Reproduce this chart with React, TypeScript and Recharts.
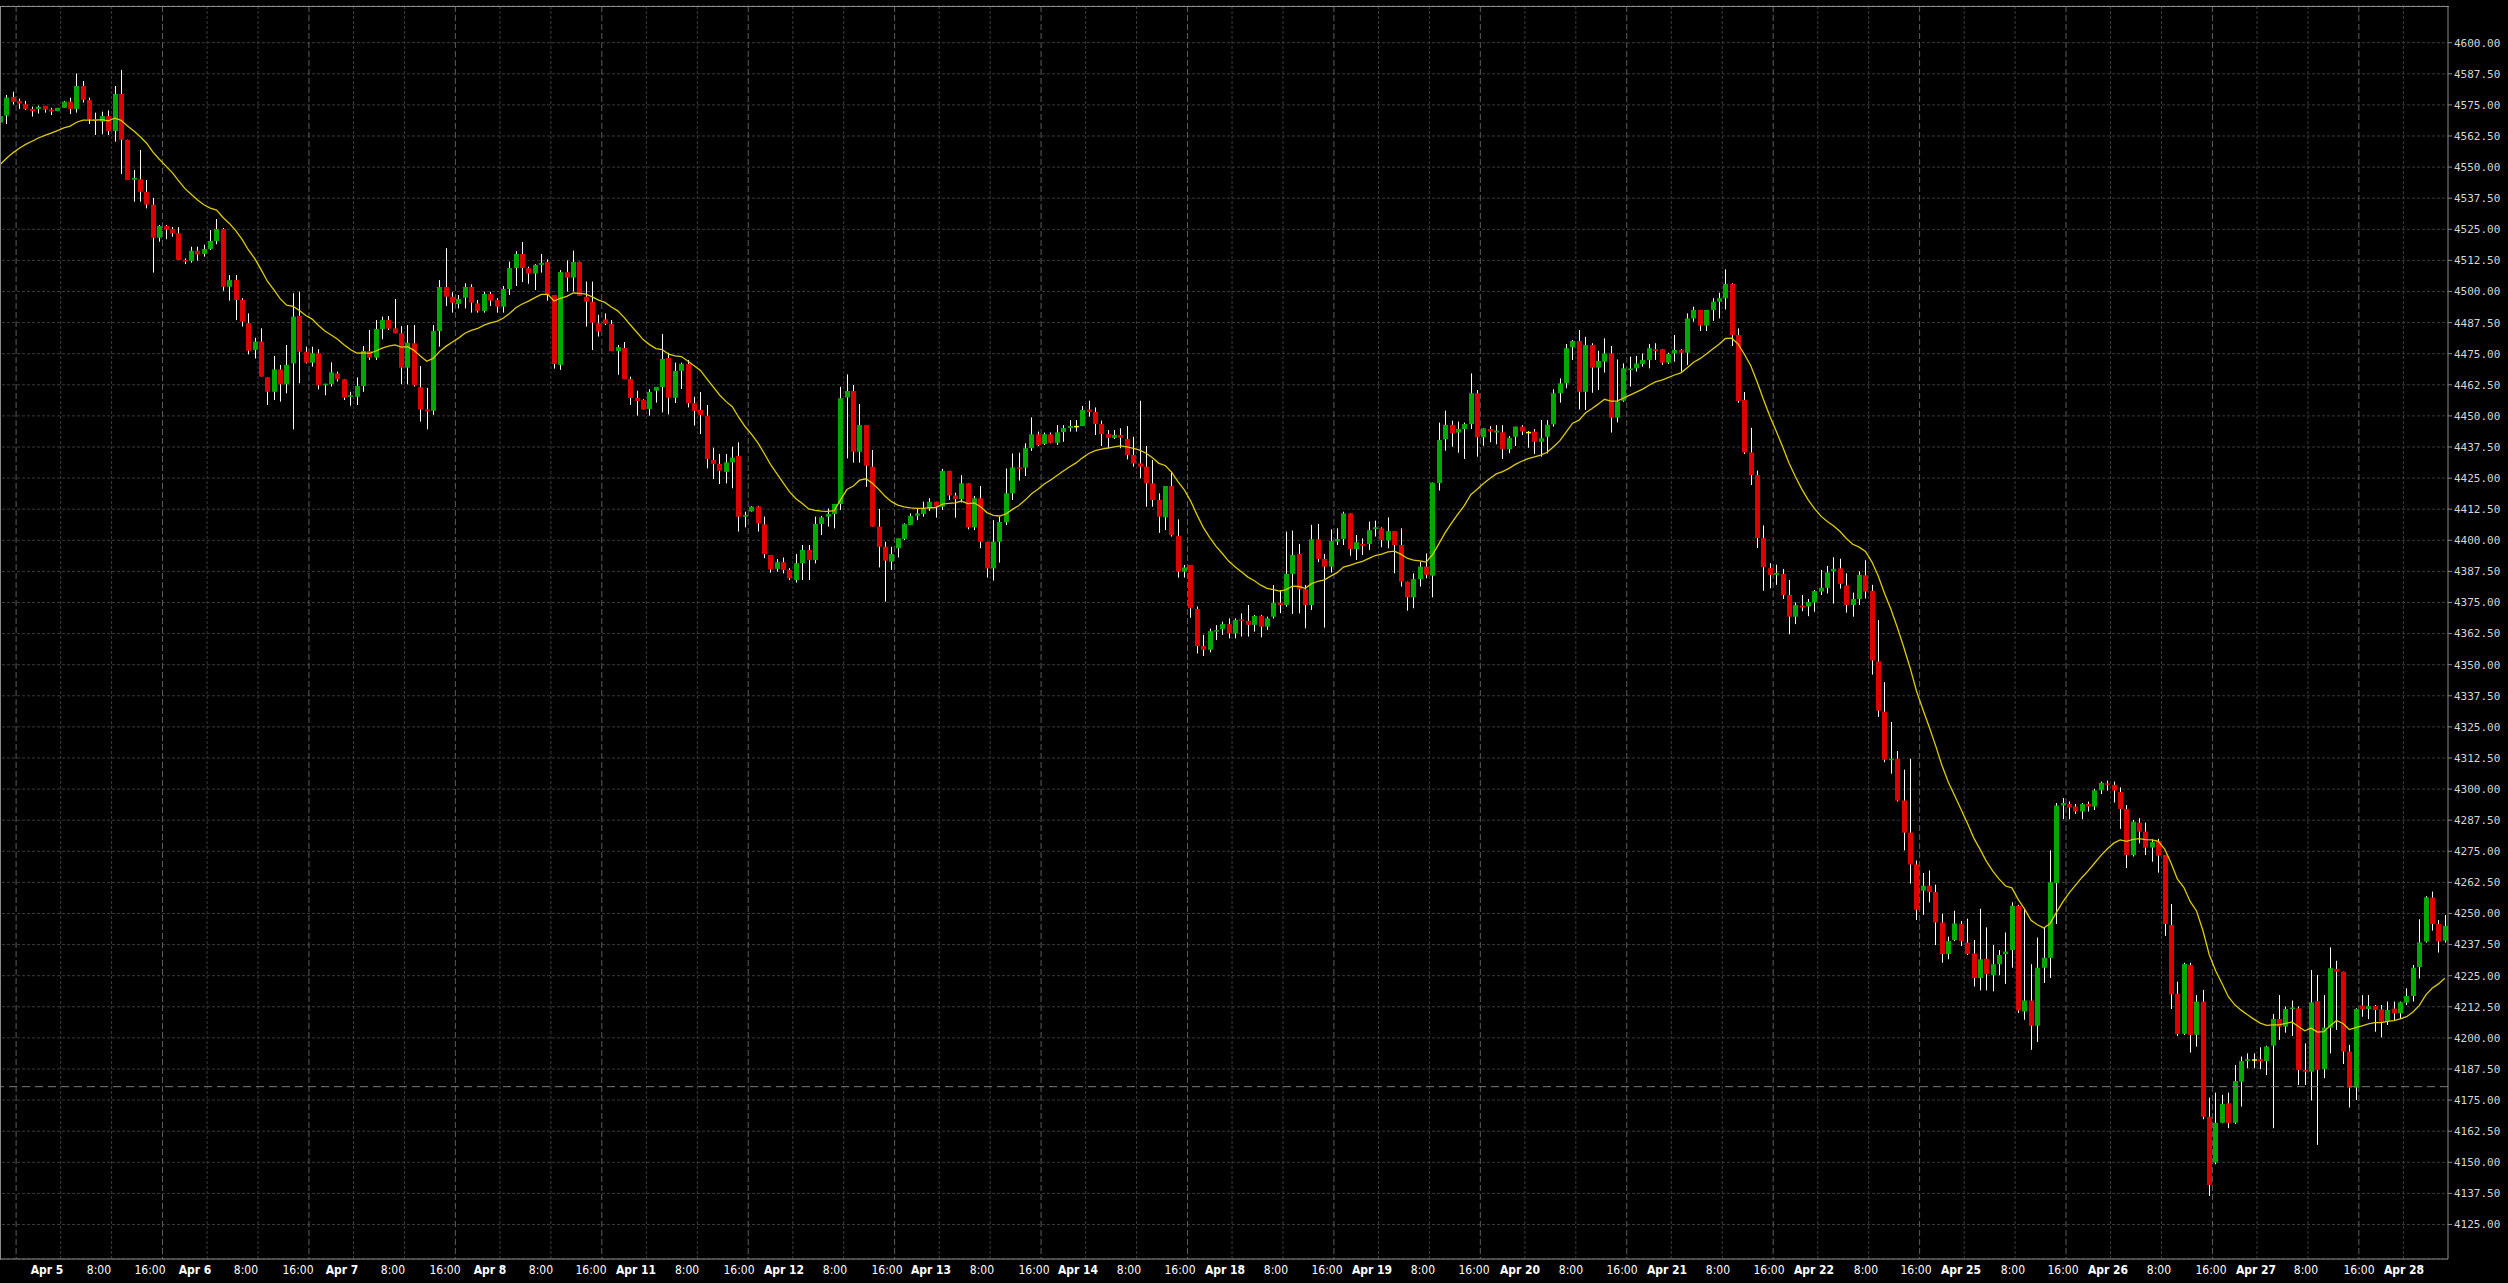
import React from 'react';
import { ComposedChart, Bar, Line, XAxis, YAxis, CartesianGrid, ReferenceLine } from 'recharts';

// ---- hourly OHLC candles ----
const opens = [4567.9,4570.7,4578.2,4576.6,4575.3,4573.4,4573.4,4574.6,4573.1,4572.5,4573.8,4576.3,4573.4,4582.6,4577.0,4569.2,4568.3,4570.5,4564.5,4579.4,4560.9,4544.9,4545.1,4540.0,4534.9,4521.6,4526.3,4525.1,4523.4,4512.7,4512.3,4516.4,4515.1,4517.1,4520.3,4525.1,4501.9,4504.6,4496.6,4487.3,4476.5,4479.9,4465.5,4459.7,4468.7,4462.7,4471.1,4490.2,4475.8,4471.4,4475.2,4462.4,4462.8,4467.1,4464.7,4457.7,4457.7,4462.0,4476.1,4473.4,4484.9,4488.5,4485.2,4483.2,4469.4,4479.2,4461.5,4452.6,4452.1,4484.1,4501.8,4497.9,4495.0,4497.5,4501.8,4495.2,4492.2,4499.0,4496.6,4493.9,4501.0,4509.4,4515.1,4509.4,4507.2,4510.7,4511.9,4498.6,4470.5,4507.8,4505.6,4511.9,4497.9,4495.9,4487.2,4488.8,4487.0,4476.1,4477.3,4464.8,4457.2,4456.4,4452.8,4460.1,4461.6,4473.3,4457.3,4468.1,4470.9,4455.1,4452.4,4450.1,4432.3,4430.7,4427.5,4431.3,4433.9,4409.5,4411.6,4413.6,4406.4,4394.1,4388.5,4391.2,4388.1,4384.0,4390.8,4396.1,4392.1,4406.6,4409.5,4410.6,4414.6,4457.4,4460.0,4435.6,4446.3,4429.6,4405.5,4397.4,4391.4,4396.8,4400.5,4406.1,4409.9,4410.6,4412.8,4415.5,4413.5,4427.9,4418.0,4416.6,4422.9,4405.2,4416.9,4399.4,4388.7,4399.4,4407.2,4418.9,4429.3,4429.2,4437.0,4442.6,4438.7,4442.6,4439.2,4443.5,4445.1,4445.7,4445.9,4452.6,4451.6,4446.7,4442.7,4441.2,4442.3,4440.7,4434.3,4430.9,4429.6,4422.9,4416.2,4409.2,4421.8,4401.7,4387.4,4390.1,4372.4,4357.5,4356.0,4363.3,4364.3,4366.3,4362.6,4368.2,4367.6,4366.0,4369.6,4365.3,4369.3,4374.9,4374.0,4386.5,4394.5,4380.3,4374.0,4400.4,4392.5,4389.4,4399.5,4400.5,4410.8,4396.5,4398.5,4398.5,4404.5,4404.8,4399.9,4403.7,4398.1,4383.4,4377.1,4384.4,4389.4,4385.8,4423.0,4440.6,4446.4,4443.3,4444.7,4446.7,4459.1,4441.4,4444.7,4443.3,4443.4,4436.6,4441.6,4445.7,4443.3,4443.7,4439.6,4441.6,4446.6,4459.1,4463.1,4477.6,4480.1,4459.7,4478.5,4469.4,4471.8,4475.1,4449.3,4456.1,4468.5,4469.1,4470.9,4472.5,4476.8,4476.8,4471.4,4475.1,4476.5,4475.4,4489.2,4492.6,4486.3,4492.6,4495.9,4497.3,4503.0,4482.5,4456.4,4435.3,4426.2,4400.9,4388.8,4386.1,4386.5,4378.0,4369.3,4373.8,4373.4,4375.0,4379.4,4380.9,4387.5,4388.7,4381.9,4374.0,4376.4,4385.9,4379.7,4351.3,4331.1,4311.6,4312.2,4295.4,4282.5,4269.7,4259.2,4261.2,4258.6,4246.4,4233.7,4239.3,4245.8,4238.3,4233.9,4224.1,4231.8,4225.2,4229.6,4233.7,4235.3,4253.1,4210.6,4215.0,4204.9,4228.2,4232.2,4262.2,4293.4,4294.0,4293.0,4291.0,4294.0,4293.0,4299.5,4302.3,4301.7,4298.8,4292.0,4273.5,4286.5,4282.9,4276.5,4279.1,4273.5,4245.4,4217.7,4201.6,4229.3,4201.2,4214.6,4168.3,4149.9,4165.9,4173.7,4165.9,4182.4,4190.7,4191.1,4191.4,4190.7,4196.9,4207.6,4204.5,4211.6,4211.9,4187.1,4186.4,4214.8,4187.4,4204.1,4227.7,4226.6,4194.5,4180.0,4213.0,4211.6,4212.8,4211.5,4206.8,4211.8,4209.9,4214.2,4216.8,4228.5,4238.7,4256.4,4245.8,4239.1];
const highs = [4571.0,4579.0,4580.3,4577.5,4576.6,4574.3,4574.7,4574.6,4573.8,4573.8,4576.6,4577.9,4587.6,4584.6,4577.9,4571.9,4572.3,4572.8,4582.6,4589.0,4561.0,4548.8,4556.9,4544.8,4537.6,4526.7,4526.7,4525.9,4525.9,4513.3,4518.0,4518.0,4518.8,4524.7,4529.1,4525.5,4506.6,4506.6,4497.3,4491.2,4481.4,4485.2,4465.5,4474.1,4470.5,4478.5,4499.3,4499.9,4477.8,4477.8,4476.8,4462.9,4471.5,4467.8,4464.7,4459.7,4465.5,4478.1,4484.5,4488.5,4489.9,4490.1,4497.0,4486.1,4486.5,4486.5,4470.0,4461.3,4486.5,4504.6,4517.4,4499.7,4498.6,4503.3,4502.9,4496.6,4499.9,4499.9,4497.3,4502.2,4512.0,4516.2,4519.9,4510.0,4511.0,4515.1,4512.9,4498.6,4508.6,4512.5,4516.4,4512.0,4504.0,4504.0,4490.6,4491.2,4488.5,4478.5,4479.7,4465.8,4460.1,4456.7,4460.7,4461.6,4482.9,4475.4,4471.4,4471.4,4472.5,4457.7,4459.6,4454.4,4437.2,4434.7,4434.7,4437.6,4439.4,4411.5,4413.7,4413.8,4409.5,4394.1,4392.5,4393.1,4388.8,4394.5,4398.1,4398.1,4409.5,4409.8,4412.8,4414.6,4461.7,4466.7,4462.4,4454.8,4446.3,4436.3,4412.6,4399.4,4397.4,4400.8,4406.8,4410.8,4412.8,4415.5,4416.9,4415.5,4428.7,4427.9,4419.1,4426.2,4422.9,4417.8,4421.8,4399.4,4408.1,4409.5,4428.9,4434.9,4435.2,4439.0,4449.4,4443.7,4443.3,4443.3,4446.3,4446.3,4448.3,4448.3,4454.0,4456.1,4453.4,4448.1,4444.3,4444.3,4445.0,4445.9,4441.6,4456.1,4437.9,4432.3,4418.9,4421.8,4427.6,4408.4,4390.1,4390.1,4373.4,4362.0,4364.5,4365.9,4367.3,4368.6,4368.6,4370.6,4374.0,4370.0,4370.0,4369.3,4382.0,4380.0,4403.5,4403.9,4398.5,4382.0,4406.2,4406.6,4394.5,4404.4,4404.8,4411.5,4410.8,4402.1,4400.8,4407.5,4407.9,4405.2,4409.2,4403.7,4404.8,4383.4,4386.7,4391.4,4394.7,4423.2,4447.3,4452.1,4448.1,4447.7,4447.3,4467.1,4460.4,4445.0,4445.9,4446.3,4446.3,4441.9,4445.7,4446.3,4443.9,4444.7,4448.3,4448.3,4460.7,4465.1,4478.9,4480.5,4484.5,4481.8,4479.2,4476.2,4481.2,4478.1,4472.7,4471.1,4473.8,4474.1,4475.1,4478.9,4479.2,4476.8,4475.4,4482.5,4476.8,4491.2,4493.9,4492.6,4492.6,4497.3,4499.5,4508.9,4503.3,4485.2,4459.6,4445.2,4428.0,4406.0,4390.8,4390.2,4388.5,4384.1,4375.0,4378.0,4376.4,4380.0,4388.1,4389.7,4393.2,4392.6,4386.7,4379.0,4387.5,4392.0,4382.1,4367.9,4343.0,4327.0,4315.3,4307.8,4312.2,4271.3,4266.3,4267.3,4261.6,4249.9,4240.7,4251.1,4247.0,4247.9,4239.3,4251.9,4244.4,4237.3,4235.3,4242.4,4254.5,4253.5,4251.9,4229.6,4240.3,4244.4,4275.4,4294.4,4296.4,4295.0,4294.0,4294.4,4295.0,4300.1,4303.0,4303.4,4303.0,4300.7,4293.6,4287.6,4288.3,4286.5,4279.8,4280.0,4273.5,4253.8,4222.6,4230.2,4230.2,4217.2,4219.3,4176.0,4178.0,4177.1,4178.0,4189.1,4192.5,4193.8,4193.8,4196.2,4196.8,4209.6,4217.2,4212.6,4215.0,4212.6,4197.8,4227.3,4225.3,4217.2,4236.4,4231.0,4226.6,4197.2,4211.9,4217.2,4217.2,4213.2,4213.2,4214.6,4214.6,4214.6,4219.9,4229.3,4247.7,4257.0,4258.8,4247.4,4249.4];
const lows = [4562.0,4567.3,4575.2,4573.4,4573.0,4570.3,4571.5,4571.9,4570.9,4572.5,4573.8,4571.3,4571.9,4575.9,4567.3,4562.9,4563.2,4562.9,4560.2,4547.2,4544.8,4536.1,4536.1,4533.4,4507.6,4520.0,4521.0,4522.0,4512.7,4511.0,4511.6,4512.4,4514.0,4516.7,4519.0,4500.3,4496.3,4488.5,4485.9,4474.7,4473.1,4465.8,4454.4,4456.4,4455.7,4459.1,4444.6,4463.1,4471.1,4469.8,4460.7,4458.3,4461.8,4463.8,4456.4,4454.1,4454.4,4459.7,4472.5,4472.5,4480.8,4484.5,4483.2,4462.7,4462.7,4461.8,4447.7,4444.6,4450.4,4477.8,4494.2,4491.5,4493.2,4493.2,4491.5,4491.5,4491.5,4494.2,4491.5,4491.5,4498.6,4502.2,4503.8,4503.1,4500.6,4507.6,4496.3,4469.0,4468.5,4500.0,4500.0,4498.2,4485.9,4476.5,4481.9,4486.5,4476.1,4466.5,4464.8,4454.4,4450.1,4452.6,4450.1,4455.3,4451.4,4450.6,4455.2,4460.8,4453.4,4446.1,4442.7,4428.9,4424.6,4422.6,4422.9,4420.9,4403.5,4405.2,4411.5,4403.5,4392.8,4387.0,4387.4,4386.7,4384.0,4383.0,4384.0,4384.0,4390.7,4402.1,4405.5,4404.8,4412.2,4432.9,4431.2,4431.2,4421.5,4405.5,4389.1,4375.3,4388.1,4393.1,4400.1,4406.1,4408.1,4409.5,4411.8,4409.1,4412.2,4416.2,4409.1,4415.2,4404.4,4404.1,4396.8,4385.0,4383.8,4391.0,4406.1,4416.2,4424.0,4425.8,4435.9,4437.9,4438.3,4439.0,4438.3,4439.6,4443.7,4443.7,4445.9,4449.7,4442.3,4437.9,4437.0,4440.7,4437.0,4432.5,4429.6,4424.9,4413.5,4413.5,4403.0,4404.1,4401.5,4385.0,4385.0,4368.9,4354.5,4353.5,4355.0,4359.9,4362.0,4360.6,4360.6,4361.3,4361.3,4363.3,4361.0,4364.0,4368.6,4370.7,4373.3,4370.4,4370.6,4364.6,4372.0,4391.2,4364.9,4387.0,4398.1,4398.1,4393.8,4392.1,4394.1,4396.1,4401.5,4397.2,4396.8,4386.7,4381.4,4371.7,4372.7,4381.4,4384.7,4377.1,4420.0,4436.0,4437.6,4435.2,4432.7,4444.7,4433.6,4438.0,4439.4,4438.6,4432.7,4435.0,4437.9,4442.3,4437.2,4434.7,4433.6,4434.9,4445.7,4455.3,4461.1,4472.5,4452.6,4452.4,4459.3,4460.4,4467.4,4443.3,4447.4,4455.7,4461.8,4467.8,4469.8,4469.1,4472.5,4470.5,4470.9,4471.8,4467.8,4470.5,4487.9,4484.1,4484.1,4488.2,4489.2,4492.8,4478.1,4455.3,4434.7,4422.2,4396.9,4379.7,4380.7,4382.1,4376.4,4362.2,4366.3,4371.5,4369.5,4371.3,4378.0,4378.6,4374.6,4380.6,4370.9,4369.3,4374.0,4376.6,4346.0,4329.0,4310.8,4306.2,4295.0,4275.4,4262.0,4247.4,4249.5,4254.5,4237.3,4230.2,4231.6,4238.9,4236.9,4233.3,4220.7,4219.1,4219.1,4218.7,4225.2,4221.7,4228.2,4210.0,4207.3,4195.2,4198.4,4222.1,4224.1,4245.8,4287.9,4287.9,4290.0,4287.9,4291.0,4291.6,4298.0,4299.4,4294.6,4284.0,4268.2,4272.9,4278.2,4273.5,4270.8,4266.4,4241.0,4211.6,4200.8,4201.2,4194.1,4196.5,4167.3,4136.5,4149.2,4165.7,4163.7,4165.4,4172.4,4187.8,4187.8,4187.4,4185.1,4163.7,4199.2,4202.1,4200.8,4181.1,4181.1,4174.8,4157.0,4183.8,4193.8,4203.2,4189.5,4172.0,4175.0,4208.5,4207.5,4202.5,4200.2,4205.2,4207.2,4207.9,4213.2,4214.6,4223.9,4238.3,4243.1,4234.3,4238.3];
const closes = [4570.5,4577.9,4576.2,4575.5,4573.4,4572.5,4574.2,4573.1,4572.3,4573.8,4576.3,4573.4,4582.6,4577.1,4569.2,4568.6,4570.5,4564.5,4579.4,4561.0,4544.8,4545.7,4540.1,4534.9,4521.6,4526.3,4524.9,4523.4,4512.7,4512.0,4516.4,4514.9,4517.1,4520.3,4525.1,4501.9,4504.6,4496.6,4487.9,4476.2,4479.9,4465.8,4459.7,4468.7,4462.7,4470.5,4489.9,4475.8,4471.4,4475.2,4462.3,4462.9,4467.5,4464.7,4457.3,4458.2,4462.0,4476.1,4473.4,4484.9,4488.5,4485.1,4483.2,4469.4,4479.4,4462.3,4452.6,4451.8,4484.1,4501.8,4497.9,4495.5,4497.0,4501.8,4495.5,4492.2,4499.0,4496.3,4493.9,4501.0,4509.4,4515.1,4509.4,4507.2,4510.7,4511.5,4498.6,4470.9,4507.8,4505.6,4511.9,4498.2,4495.9,4487.5,4483.9,4487.0,4476.1,4477.6,4464.8,4457.2,4456.0,4452.6,4459.6,4461.6,4472.9,4457.3,4468.1,4470.9,4455.1,4452.0,4450.4,4432.7,4430.7,4427.9,4431.3,4433.2,4409.5,4410.2,4413.5,4406.8,4394.4,4388.3,4391.2,4388.1,4384.7,4390.8,4396.1,4392.1,4406.6,4409.2,4410.6,4414.6,4457.1,4460.0,4435.6,4446.3,4430.0,4405.5,4397.4,4391.8,4394.5,4400.8,4406.5,4409.8,4410.8,4412.8,4415.5,4413.5,4427.9,4418.0,4416.6,4422.9,4405.2,4416.9,4399.4,4388.7,4399.4,4407.4,4418.9,4429.3,4428.6,4437.0,4442.6,4438.3,4442.6,4439.2,4443.4,4445.1,4445.9,4445.7,4452.4,4451.6,4446.7,4442.7,4441.2,4442.3,4441.2,4434.3,4430.9,4429.6,4422.9,4416.2,4409.5,4421.8,4402.1,4387.4,4389.1,4372.7,4357.5,4356.0,4363.5,4363.9,4366.3,4362.6,4368.0,4367.6,4366.0,4369.6,4365.3,4368.6,4374.9,4374.0,4386.5,4394.1,4380.3,4374.0,4400.4,4392.5,4389.4,4399.7,4400.5,4410.8,4396.5,4399.2,4397.8,4404.1,4405.2,4400.1,4403.7,4398.1,4383.4,4377.1,4384.4,4389.4,4386.1,4423.2,4440.3,4446.4,4443.0,4444.7,4446.7,4459.1,4441.4,4445.0,4443.7,4444.1,4436.6,4441.2,4445.7,4443.7,4443.3,4439.6,4441.0,4446.4,4459.1,4463.1,4477.2,4480.1,4459.7,4478.5,4469.4,4472.1,4475.1,4449.3,4455.7,4469.1,4469.0,4471.1,4472.5,4477.2,4476.1,4471.4,4474.9,4476.5,4475.4,4489.2,4492.6,4486.3,4492.6,4495.9,4497.3,4503.0,4482.5,4456.0,4435.3,4426.2,4400.9,4389.2,4386.1,4386.9,4378.0,4369.3,4374.0,4373.0,4375.2,4379.6,4380.9,4387.1,4388.5,4382.5,4374.0,4376.4,4386.1,4379.4,4351.7,4331.5,4311.8,4312.2,4295.4,4282.5,4269.7,4251.5,4261.2,4258.6,4246.4,4233.7,4238.9,4246.0,4238.9,4233.7,4224.1,4231.6,4225.6,4229.6,4233.3,4234.7,4253.1,4211.0,4215.0,4204.9,4228.2,4232.2,4262.6,4293.4,4294.4,4292.6,4291.0,4294.0,4293.0,4299.5,4302.5,4301.7,4299.4,4292.0,4273.5,4286.9,4282.9,4276.5,4278.7,4273.3,4245.8,4217.5,4201.6,4229.7,4201.2,4214.6,4168.3,4140.9,4165.9,4173.4,4165.7,4182.7,4190.7,4191.4,4191.1,4190.5,4196.5,4207.6,4204.5,4211.6,4212.2,4187.1,4186.4,4214.3,4187.1,4204.1,4228.0,4226.6,4194.5,4180.0,4211.6,4211.5,4212.8,4211.2,4206.5,4211.2,4209.9,4214.3,4216.8,4228.2,4238.4,4256.5,4245.8,4238.7,4245.0];

const EMA_PERIOD = 20;
const EMA_FIRST = 4551;

// price axis
const priceTicks = [4125,4137.5,4150,4162.5,4175,4187.5,4200,4212.5,4225,4237.5,4250,4262.5,4275,4287.5,4300,4312.5,4325,4337.5,4350,4362.5,4375,4387.5,4400,4412.5,4425,4437.5,4450,4462.5,4475,4487.5,4500,4512.5,4525,4537.5,4550,4562.5,4575,4587.5,4600];
const priceDomain = [4111.13, 4614.75];
const lastPriceLine = 4180.4;

// time axis labels (positions in bar units)
const timeLabels = ['Apr 5','8:00','16:00','Apr 6','8:00','16:00','Apr 7','8:00','16:00','Apr 8','8:00','16:00','Apr 11','8:00','16:00','Apr 12','8:00','16:00','Apr 13','8:00','16:00','Apr 14','8:00','16:00','Apr 18','8:00','16:00','Apr 19','8:00','16:00','Apr 20','8:00','16:00','Apr 21','8:00','16:00','Apr 22','8:00','16:00','Apr 25','8:00','16:00','Apr 26','8:00','16:00','Apr 27','8:00','16:00','Apr 28'];
const timeLabelPos = [7.35,15.52,23.53,30.6,38.61,46.78,53.69,61.7,69.87,76.94,84.95,92.81,99.88,107.89,116.05,123.12,131.13,139.3,146.21,154.22,162.39,169.3,177.31,185.32,192.39,200.4,208.41,215.48,223.49,231.5,238.73,246.74,254.75,261.82,269.83,277.84,284.91,293.08,300.93,308.0,316.17,324.02,331.09,339.1,347.27,354.34,362.19,370.52,377.59];

// session structure: 23 hourly bars per session; grid at session start and +7 / +15 bars
const BARS_PER_SESSION = 23;
const FIRST_SESSION_BAR = 3;
const SESSION_OFFSETS = [7, 15];

const N = opens.length;
const ema: number[] = [];
closes.forEach((c, i) => {
  if (i === 0) ema.push(EMA_FIRST);
  else ema.push(ema[i - 1] + (2 / (EMA_PERIOD + 1)) * (c - ema[i - 1]));
});

const data = opens.map((o, i) => ({
  i,
  o,
  h: highs[i],
  l: lows[i],
  c: closes[i],
  range: [lows[i], highs[i]],
  ema: ema[i],
}));

const sessionBars: number[] = [];
const innerBars: number[] = [];
for (let b = FIRST_SESSION_BAR; b < N; b += BARS_PER_SESSION) {
  sessionBars.push(b);
  SESSION_OFFSETS.forEach((off) => { if (b + off < N) innerBars.push(b + off); });
}

const GREEN = '#00a800';
const RED = '#dc0000';
const DOJI = '#ffff00';

const mapScale = (scale: any, v: number) => {
  if (typeof scale === 'function') return scale(v);
  if (scale && typeof scale.map === 'function') return scale.map(v);
  return 0;
};

const genInner = ({ xAxis }: any) => innerBars.map((b) => mapScale(xAxis.scale, b));
const genSession = ({ xAxis }: any) => sessionBars.map((b) => mapScale(xAxis.scale, b));

const Candle = (props: any) => {
  const { x, y, width, height, payload } = props;
  if (x == null || y == null || !payload) return null;
  const { o, h, l, c } = payload;
  const top = Math.min(y, y + height);
  const hpx = Math.abs(height);
  const span = h - l;
  const py = (p: number) => top + (span > 0 ? ((h - p) / span) * hpx : 0);
  const cx = x + width / 2;
  const wx = Math.floor(cx) + 0.5;
  let bTop = py(Math.max(o, c));
  let bBot = py(Math.min(o, c));
  if (bBot - bTop < 1.5) {
    const mid = (bTop + bBot) / 2;
    bTop = mid - 0.75;
    bBot = mid + 0.75;
  }
  const color = c > o ? GREEN : c < o ? RED : DOJI;
  return (
    <g>
      <line x1={wx} x2={wx} y1={top} y2={top + hpx} stroke="#ffffff" strokeWidth={1} />
      <rect x={Math.round(cx - 2.5)} y={bTop} width={5} height={bBot - bTop} fill={color} />
    </g>
  );
};

const XTick = (props: any) => {
  const { x, y, payload } = props;
  const k = timeLabelPos.indexOf(payload.value);
  const label = k >= 0 ? timeLabels[k] : '';
  const isDate = label.startsWith('Apr');
  return (
    <text
      x={x}
      y={y + 15}
      textAnchor="middle"
      fill="#ffffff"
      fontSize={12}
      fontWeight={isDate ? 'bold' : 'normal'}
      style={{ fontFamily: "'DejaVu Sans Condensed', 'DejaVu Sans', sans-serif", fontStretch: 'condensed' }}
    >
      {label}
    </text>
  );
};

export default function App() {
  return (
    <div style={{ position: 'absolute', left: 0, top: 0, width: 2508, height: 1283, background: '#000000', overflow: 'hidden' }}>
      <ComposedChart
        width={2508}
        height={1283}
        data={data}
        margin={{ top: 6, right: 0, bottom: 0, left: -3 }}
        style={{ background: '#000000' }}
      >
        <CartesianGrid
          stroke="#3a3a3a"
          strokeDasharray="3 2"
          horizontal={true}
          vertical={true}
          verticalCoordinatesGenerator={genInner}
          fill="none"
        />
        <CartesianGrid
          stroke="#5c5c5c"
          strokeDasharray="6 3"
          horizontal={false}
          vertical={true}
          verticalCoordinatesGenerator={genSession}
          fill="none"
        />
        <XAxis dataKey="i" type="category" orientation="top" height={0} hide />
        <XAxis
          xAxisId="t"
          dataKey="i"
          type="number"
          domain={[-0.5, N - 0.5]}
          allowDataOverflow
          ticks={timeLabelPos}
          interval={0}
          height={24}
          tickSize={0}
          tickMargin={0}
          tickLine={false}
          axisLine={{ stroke: '#8a8a8a' }}
          tick={<XTick />}
        />
        <YAxis
          orientation="right"
          width={60}
          domain={priceDomain}
          allowDataOverflow
          ticks={priceTicks}
          interval={0}
          tickSize={4}
          tickMargin={2}
          tickLine={{ stroke: '#8a8a8a' }}
          axisLine={{ stroke: '#8a8a8a' }}
          tickFormatter={(v: number) => v.toFixed(2)}
          tick={{ fill: '#d6d6d6', fontSize: 11, fontFamily: "'DejaVu Sans Mono', monospace" }}
        />
        <ReferenceLine y={lastPriceLine} stroke="#7a7a7a" strokeDasharray="8 5" />
        <Bar dataKey="range" barSize={5} shape={<Candle />} isAnimationActive={false} />
        <Line
          dataKey="ema"
          type="linear"
          stroke="#dccb00"
          strokeWidth={1.3}
          dot={false}
          activeDot={false}
          isAnimationActive={false}
        />
      </ComposedChart>
      <div
        style={{
          position: 'absolute',
          left: 0,
          top: 6,
          width: 2449,
          height: 1254,
          borderTop: '1px solid #8a8a8a',
          borderLeft: '1px solid #8a8a8a',
          boxSizing: 'border-box',
          pointerEvents: 'none',
        }}
      />
    </div>
  );
}
